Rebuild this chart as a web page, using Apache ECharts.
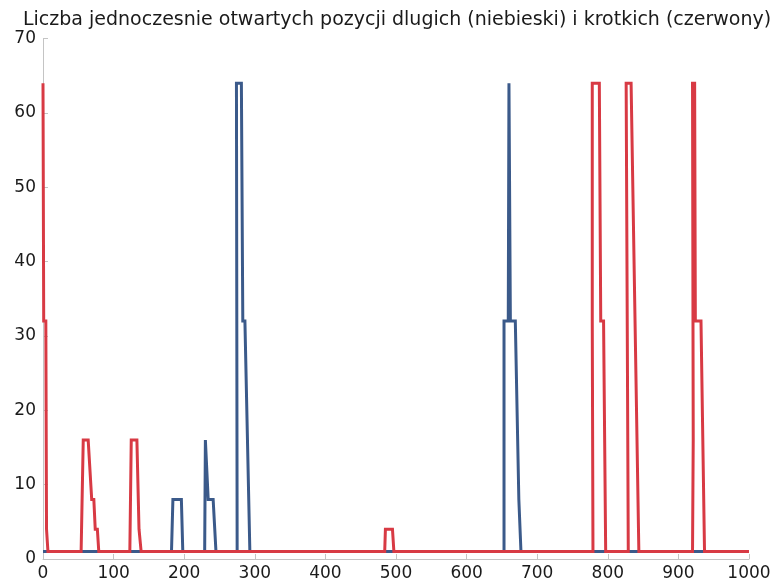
<!DOCTYPE html>
<html>
<head>
<meta charset="utf-8">
<script src="https://cdn.jsdelivr.net/npm/echarts@6/dist/echarts.min.js"></script>
<style>
  html, body { margin: 0; padding: 0; background: #ffffff; }
  #chart { width: 774px; height: 582px; }
</style>
</head>
<body>
<div id="chart"></div>
<script>
// Open long positions (blue): breakpoints of the polyline
var longX = [0, 182, 184, 196, 198, 229, 230, 234, 241, 245, 275, 274, 281, 283, 286, 293,
             653, 653, 659, 660, 661, 662, 669, 674, 677, 1000];
var longY = [1, 1, 8, 8, 1, 1, 16, 8, 8, 1, 1, 64, 64, 32, 32, 1,
             1, 32, 32, 64, 64, 32, 32, 8, 1, 1];

// Open short positions (red)
var shortX = [0, 1, 4, 5, 7, 54, 57, 64, 69, 72, 74, 77, 79, 123, 125, 133, 136, 139,
              484, 485, 495, 497, 779, 778, 778, 788, 790, 794, 797, 829, 826, 833, 844,
              920, 921, 920, 923, 924, 932, 937, 1000];
var shortY = [64, 32, 32, 4, 1, 1, 16, 16, 8, 8, 4, 4, 1, 1, 16, 16, 4, 1,
              1, 4, 4, 1, 1, 32, 64, 64, 32, 32, 1, 1, 64, 64, 1,
              1, 16, 64, 64, 32, 32, 1, 1];

var xTicks = { min: 0, max: 1000, step: 100 };
var yTicks = { min: 0, max: 70, step: 10 };

var titleText = 'Liczba jednoczesnie otwartych pozycji dlugich (niebieski) i krotkich (czerwony)';

function pairs(xs, ys) {
  return xs.map(function (x, i) { return [x, ys[i]]; });
}

var chart = echarts.init(document.getElementById('chart'), null, { renderer: 'canvas' });

var axisGray = '#c4c4c4';
var labelFont = { color: '#1a1a1a', fontFamily: 'DejaVu Sans', fontSize: 17 };

chart.setOption({
  animation: false,
  backgroundColor: '#ffffff',
  title: {
    text: titleText,
    left: 18,
    top: 6,
    textStyle: { color: '#1a1a1a', fontFamily: 'DejaVu Sans', fontSize: 19, fontWeight: 'normal' }
  },
  grid: { left: 43, right: 25, top: 38.6, bottom: 22.6, containLabel: false },
  xAxis: {
    type: 'value',
    min: xTicks.min, max: xTicks.max, interval: xTicks.step,
    axisLine: { show: true, lineStyle: { color: axisGray, width: 1 } },
    axisTick: { show: true, inside: true, length: 5, lineStyle: { color: axisGray } },
    splitLine: { show: false },
    axisLabel: Object.assign({ margin: 6, formatter: function (v) { return String(v); } }, labelFont)
  },
  yAxis: {
    type: 'value',
    min: yTicks.min, max: yTicks.max, interval: yTicks.step,
    axisLine: { show: true, lineStyle: { color: axisGray, width: 1 } },
    axisTick: { show: true, inside: true, length: 5, lineStyle: { color: axisGray } },
    splitLine: { show: false },
    axisLabel: Object.assign({ margin: 7 }, labelFont)
  },
  series: [
    {
      name: 'dlugie',
      type: 'line',
      data: pairs(longX, longY),
      showSymbol: false,
      lineStyle: { color: '#3b5a8a', width: 3, join: 'miter' },
      itemStyle: { color: '#3b5a8a' },
      z: 2
    },
    {
      name: 'krotkie',
      type: 'line',
      data: pairs(shortX, shortY),
      showSymbol: false,
      lineStyle: { color: '#d83a44', width: 3, join: 'miter' },
      itemStyle: { color: '#d83a44' },
      z: 3
    }
  ]
});
</script>
</body>
</html>
